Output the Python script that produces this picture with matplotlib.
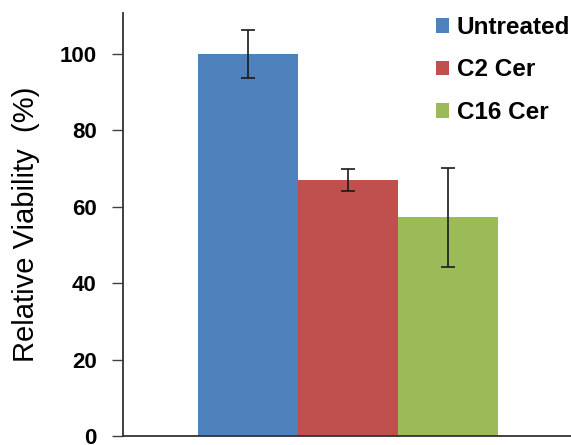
import matplotlib
matplotlib.use("Agg")
import matplotlib.pyplot as plt
from matplotlib.patches import Patch

categories = ["Untreated", "C2 Cer", "C16 Cer"]
values = [100.0, 67.0, 57.2]
errors = [6.3, 2.8, 13.0]
colors = ["#4F81BD", "#C0504D", "#9BBB59"]
yticks = [0, 20, 40, 60, 80, 100]

plt.rcParams['font.family'] = ['Liberation Sans', 'DejaVu Sans']

fig = plt.figure(figsize=(5.71, 4.45), dpi=100)
ax = fig.add_axes([123/571, 1 - 436/445, 1 - 123/571, (436 - 13)/445])

x = list(range(len(categories)))
ax.bar(x, values, width=1.0, color=colors, yerr=errors, capsize=5,
       error_kw=dict(ecolor="#1a1a1a", elinewidth=1.2, capthick=1.2))

ax.set_ylim(0, 110.7)
ax.set_xlim(-1.245, 3.23)
ax.set_yticks(yticks)
ax.set_yticklabels([str(t) for t in yticks], fontsize=16, fontweight='bold')
ax.set_xticks([])
ax.tick_params(axis='y', direction='out', length=8, width=1.0, color="#404040", pad=11)
for s in ['top', 'right']:
    ax.spines[s].set_visible(False)
for s in ['left', 'bottom']:
    ax.spines[s].set_color("#333333")
    ax.spines[s].set_linewidth(1.3)
ax.set_ylabel("Relative Viability  (%)", fontsize=21, labelpad=14)

handles = [Patch(facecolor=c, edgecolor='none') for c in colors]
fig.legend(handles, categories, loc='upper left', bbox_to_anchor=(436/571, 1 - 16/445),
           frameon=False, prop=dict(size=17.5, weight='bold'),
           handlelength=0.55, handleheight=0.55, handletextpad=0.3, labelspacing=0.8,
           borderaxespad=0, borderpad=0)

fig.savefig("out.png", dpi=100)
